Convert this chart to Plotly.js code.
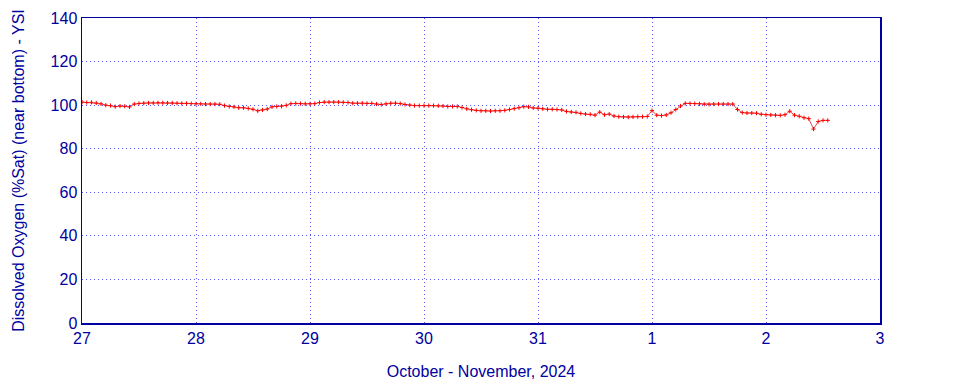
<!DOCTYPE html>
<html><head><meta charset="utf-8">
<script src="https://cdn.plot.ly/plotly-3.0.1.min.js"></script>
<style>body{margin:0;background:#fff}#c{width:960px;height:384px}</style>
</head><body><div id="c"></div>
<script>
// Hourly readings starting 2024-10-27 00:00
const startTime = "2024-10-27T00:00:00";
const doValues = [
101.4,101.2,101.3,101.0,100.6,100.0,99.8,99.3,99.6,99.5,99.2,100.5,100.8,100.9,101.0,101.0,101.1,101.1,101.0,101.0,100.9,100.8,100.8,100.7,
100.6,100.6,100.5,100.5,100.5,100.4,99.8,99.4,99.2,98.8,98.8,98.5,98.1,97.4,97.8,98.2,99.2,99.4,99.5,99.9,100.7,100.8,100.7,100.6,
100.6,100.7,101.2,101.4,101.4,101.4,101.4,101.3,101.2,100.9,100.9,100.9,100.8,100.8,100.5,100.3,100.6,100.9,100.9,100.7,100.3,100.0,99.8,99.8,
99.8,99.8,99.8,99.7,99.6,99.4,99.4,99.4,98.9,98.3,97.9,97.6,97.4,97.4,97.3,97.4,97.4,97.6,98.0,98.4,98.8,99.3,99.2,98.7,
98.6,98.3,98.1,98.1,98.0,97.8,97.1,96.9,96.7,96.2,95.9,95.8,95.4,96.8,95.6,95.9,95.0,94.7,94.6,94.5,94.6,94.7,94.7,94.8,
97.5,95.4,95.2,95.5,96.5,98.0,99.6,100.8,100.8,100.7,100.6,100.4,100.4,100.5,100.5,100.5,100.5,100.5,98.0,96.6,96.4,96.4,96.3,95.8,
95.6,95.5,95.4,95.3,95.6,97.2,95.4,94.9,94.2,93.8,89.0,92.5,93.0,93.0
];
const tickVals = ["2024-10-27","2024-10-28","2024-10-29","2024-10-30","2024-10-31","2024-11-01","2024-11-02","2024-11-03"];
const tickText = ["27","28","29","30","31","1","2","3"];

const t0 = new Date(startTime + "Z").getTime();
const times = doValues.map((_, i) => new Date(t0 + i * 3600000).toISOString().slice(0,19).replace("T"," "));

const ink = "#0000a0";
const grid = "#5a5aff";
const trace = {
  x: times, y: doValues, type: "scatter", mode: "lines+markers",
  line: {color: "#e05050", width: 1},
  marker: {symbol: "cross-thin-open", size: 3, color: "#ff0000", line: {color: "#ff0000", width: 1}},
  hoverinfo: "skip"
};
const layout = {
  width: 960, height: 384,
  margin: {l: 82, r: 80, t: 18, b: 61},
  paper_bgcolor: "#fff", plot_bgcolor: "#fff",
  showlegend: false,
  font: {family: "Liberation Sans, Arial, sans-serif", color: ink, size: 16},
  xaxis: {
    type: "date", range: ["2024-10-27", "2024-11-03"],
    tickvals: tickVals, ticktext: tickText, ticks: "",
    showgrid: true, gridcolor: grid, griddash: "1px,3px", gridwidth: 1,
    showline: true, linecolor: ink, linewidth: 1.5, mirror: true, zeroline: false,
    tickfont: {size: 16, color: ink},
    title: {text: "October - November, 2024", font: {size: 16, color: ink}, standoff: 20}
  },
  yaxis: {
    range: [0, 140], tickvals: [0,20,40,60,80,100,120,140], ticks: "",
    showgrid: true, gridcolor: grid, griddash: "1px,3px", gridwidth: 1,
    showline: true, linecolor: ink, linewidth: 1.5, mirror: true, zeroline: false,
    tickfont: {size: 16, color: ink},
    title: {text: "Dissolved Oxygen (%Sat) (near bottom) - YSI", font: {size: 16, color: ink}, standoff: 22}
  }
};
Plotly.newPlot("c", [trace], layout, {staticPlot: true, displayModeBar: false});
</script></body></html>
